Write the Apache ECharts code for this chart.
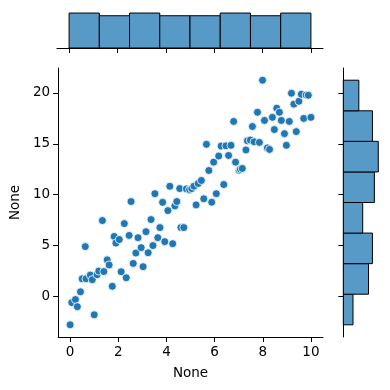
<!DOCTYPE html>
<html>
<head>
<meta charset="utf-8">
<script src="https://cdn.jsdelivr.net/npm/echarts@6/dist/echarts.min.js"></script>
<style>html,body{margin:0;padding:0;background:#fff}#c{width:390px;height:390px}</style>
</head>
<body>
<div id="c"></div>
<script>
var xs = [0.00,0.07,0.22,0.30,0.43,0.50,0.63,0.66,0.84,0.92,
1.00,1.12,1.19,1.34,1.40,1.54,1.62,1.75,1.83,1.90,
2.04,2.12,2.25,2.33,2.45,2.53,2.62,2.73,2.82,2.95,
3.03,3.15,3.24,3.36,3.44,3.52,3.64,3.73,3.84,3.93,
4.06,4.14,4.26,4.35,4.43,4.55,4.60,4.72,4.83,4.96,
5.05,5.14,5.23,5.32,5.45,5.55,5.66,5.76,5.88,5.96,
6.07,6.17,6.27,6.38,6.47,6.58,6.68,6.79,6.87,
7.02,7.07,7.15,7.30,7.36,7.48,7.57,7.64,7.78,7.86,
7.99,8.07,8.19,8.28,8.40,8.48,8.58,8.69,8.77,8.90,8.98,
9.10,9.19,9.29,9.39,9.50,9.60,9.70,9.80,9.89,10.00];
var ys = [-2.78,-0.6,-0.3,-1.0,0.46,1.74,4.9,1.74,2.1,1.65,
-1.8,2.14,2.5,7.46,2.45,3.6,3.1,1.0,5.9,5.25,
5.6,2.43,7.16,1.84,6.0,9.33,3.25,4.27,5.78,4.8,
2.93,6.37,4.3,7.56,5.0,10.1,5.78,6.77,9.25,5.39,
8.44,10.83,5.19,8.9,9.33,10.6,6.77,6.77,10.57,10.5,
10.6,10.84,9.0,11.1,11.4,9.6,14.95,12.38,9.26,13.2,
10.1,13.8,14.78,11.0,14.8,13.86,14.85,17.2,13.2,
12.4,12.5,12.58,14.4,15.3,15.37,16.7,15.2,18.1,15.14,
21.25,17.3,14.6,14.45,17.6,16.4,18.5,18.1,17.3,16.0,14.85,
17.2,19.97,18.9,16.2,19.18,19.87,17.5,19.8,19.77,17.6];
var xTicks = [0,2,4,6,8,10];
var yTicks = [0,5,10,15,20];
var nBins = 8;
var xLabel = 'None', yLabel = 'None';

function hist(vals, n){
  var mn = Math.min.apply(null, vals), mx = Math.max.apply(null, vals);
  var w = (mx - mn) / n, counts = [];
  for (var i = 0; i < n; i++) counts.push(0);
  vals.forEach(function(v){ var k = Math.floor((v - mn) / w); if (k >= n) k = n - 1; counts[k]++; });
  return counts.map(function(c, i){ return [mn + i * w, mn + (i + 1) * w, c]; });
}
var xh = hist(xs, nBins), yh = hist(ys, nBins);
var xMaxC = Math.max.apply(null, xh.map(function(d){return d[2];}));
var yMaxC = Math.max.apply(null, yh.map(function(d){return d[2];}));
var pts = xs.map(function(x, i){ return [x, ys[i]]; });

var font = 'DejaVu Sans';
var fill = 'rgb(87,153,199)';
var chart = echarts.init(document.getElementById('c'), null, {renderer:'canvas'});
chart.setOption({
  animation: false,
  textStyle: {fontFamily: font},
  grid: [
    {left:57, top:68, width:266, height:269},
    {left:57, top:11.3, width:266, height:36.7},
    {left:343.3, top:68, width:36.7, height:269}
  ],
  xAxis: [
    {gridIndex:0, type:'value', min:-0.5, max:10.5,
     axisLine:{show:true, onZero:false, lineStyle:{color:'#000', width:1}},
     axisTick:{show:true, length:5, lineStyle:{color:'#000', width:1}, customValues:xTicks},
     axisLabel:{color:'#000', fontSize:13.5, margin:8, fontFamily:font, customValues:xTicks},
     splitLine:{show:false},
     name:xLabel, nameLocation:'middle', nameGap:29,
     nameTextStyle:{color:'#000', fontSize:13.5, fontFamily:font}},
    {gridIndex:1, type:'value', min:-0.5, max:10.5,
     axisLine:{show:true, onZero:false, lineStyle:{color:'#000', width:1}},
     axisTick:{show:true, length:5, lineStyle:{color:'#000', width:1}, customValues:xTicks},
     axisLabel:{show:false}, splitLine:{show:false}},
    {gridIndex:2, type:'value', min:0, max:yMaxC*1.05, show:false}
  ],
  yAxis: [
    {gridIndex:0, type:'value', min:-3.98, max:22.45,
     axisLine:{show:true, onZero:false, lineStyle:{color:'#000', width:1}},
     axisTick:{show:true, length:5, lineStyle:{color:'#000', width:1}, customValues:yTicks},
     axisLabel:{color:'#000', fontSize:13.5, margin:8, fontFamily:font, customValues:yTicks},
     splitLine:{show:false},
     name:yLabel, nameLocation:'middle', nameGap:31, nameRotate:90,
     nameTextStyle:{color:'#000', fontSize:13.5, fontFamily:font}},
    {gridIndex:1, type:'value', min:0, max:xMaxC*1.05, show:false},
    {gridIndex:2, type:'value', min:-3.98, max:22.45,
     axisLine:{show:true, onZero:false, lineStyle:{color:'#000', width:1}},
     axisTick:{show:true, length:5, lineStyle:{color:'#000', width:1}, customValues:yTicks},
     axisLabel:{show:false}, splitLine:{show:false}}
  ],
  series: [
    {type:'scatter', xAxisIndex:0, yAxisIndex:0, data:pts, symbolSize:8,
     itemStyle:{color:'#1f77b4', borderColor:'#fff', borderWidth:0.8, opacity:1}},
    {type:'custom', xAxisIndex:1, yAxisIndex:1, data:xh,
     renderItem:function(params, api){
       var p0 = api.coord([api.value(0), 0]), p1 = api.coord([api.value(1), api.value(2)]);
       return {type:'rect', shape:{x:p0[0], y:p1[1], width:p1[0]-p0[0], height:p0[1]-p1[1]},
               style:{fill:fill, stroke:'#000', lineWidth:1}};
     }},
    {type:'custom', xAxisIndex:2, yAxisIndex:2, data:yh,
     renderItem:function(params, api){
       var p0 = api.coord([0, api.value(0)]), p1 = api.coord([api.value(2), api.value(1)]);
       return {type:'rect', shape:{x:p0[0], y:p1[1], width:p1[0]-p0[0], height:p0[1]-p1[1]},
               style:{fill:fill, stroke:'#000', lineWidth:1}};
     }}
  ]
});
</script>
</body>
</html>
